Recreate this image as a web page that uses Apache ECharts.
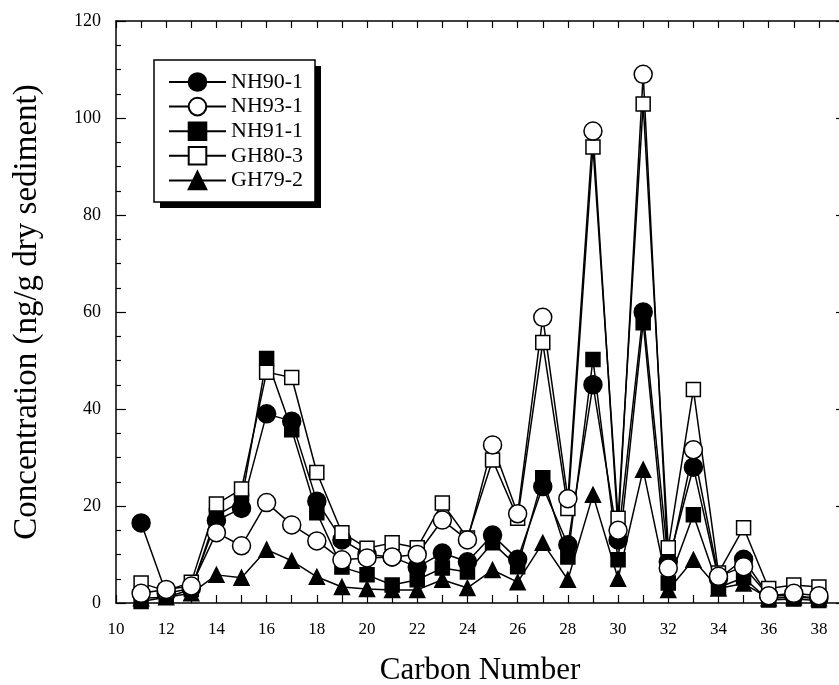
<!DOCTYPE html>
<html>
<head>
<meta charset="utf-8">
<script src="https://cdn.jsdelivr.net/npm/echarts@6/dist/echarts.min.js"></script>
<style>html,body{margin:0;padding:0;background:#fff;}#c{width:839px;height:685px;}</style>
</head>
<body>
<div id="c"></div>
<script>
const carbon = [11,12,13,14,15,16,17,18,19,20,21,22,23,24,25,26,27,28,29,30,31,32,33,34,35,36,37,38];
const nh90_1 = [16.5,2,3,17,19.5,39,37.5,21,13,10,9.5,7.4,10.3,8.5,14,9,24,12,45,13,60,8.5,28,5,9,1.5,1.5,1];
const nh93_1 = [2,2.8,3.5,14.5,11.8,20.7,16.1,12.8,8.9,9.3,9.5,10,17.1,13,32.6,18.4,58.9,21.5,97.3,15,109,7.2,31.6,5.5,7.5,1.5,2,1.5];
const nh91_1 = [0.3,1.2,2.8,18,21,50.4,35.7,18.6,7.4,5.8,3.7,4.8,7.2,6.4,12.4,7.5,25.8,9.5,50.2,8.9,57.8,4.1,18.2,3.2,5.2,0.6,0.8,0.5];
const gh80_3 = [4.1,2.5,4.3,20.4,23.5,47.6,46.5,26.9,14.5,11.3,12.4,11.4,20.6,13.4,29.5,17.5,53.7,19.5,94,17.5,102.9,11.4,44,6.2,15.5,3,3.7,3.3];
const gh79_2 = [1,1.2,2,5.8,5.2,11,8.7,5.4,3.3,2.9,2.7,2.7,4.8,3.1,6.8,4.3,12.4,4.8,22.3,5,27.5,2.7,8.9,3,4,1,1.2,1];
const xTicks = [10,12,14,16,18,20,22,24,26,28,30,32,34,36,38];
const yTicks = [0,20,40,60,80,100,120];
const legendNames = ['NH90-1','NH93-1','NH91-1','GH80-3','GH79-2'];

const FONT = 'Liberation Serif';
const pairs = arr => carbon.map((c,i)=>[c,arr[i]]);

function mk(name, data, symbol, size, filled){
  return {
    name, type:'line', data:pairs(data), symbol, symbolSize:size,
    lineStyle:{color:'#000', width:1.5},
    itemStyle:{color: filled ? '#000' : '#fff', borderColor:'#000', borderWidth:1.5},
    emphasis:{disabled:true}, animation:false
  };
}

const chart = echarts.init(document.getElementById('c'));
const axisCommon = {
  axisLine:{show:true, onZero:false, lineStyle:{color:'#000', width:1.5}},
  splitLine:{show:false}
};
chart.setOption({
  animation:false,
  grid:{left:116, right:-5, top:21, bottom:82, containLabel:false, outerBoundsMode:'none'},
  graphic:[
    {type:'rect', z:0, shape:{x:160, y:66, width:161, height:142}, style:{fill:'#000'}},
    {type:'rect', z:1, shape:{x:154, y:60, width:161, height:142}, style:{fill:'#fff', stroke:'#000', lineWidth:1.5}}
  ],
  legend:{
    orient:'vertical', left:154, top:60,
    padding:[11,12,11,14], itemGap:2.6, itemWidth:57, itemHeight:22,
    textStyle:{fontFamily:FONT, fontSize:22, color:'#000', lineHeight:22},
    data:legendNames
  },
  xAxis:[
    Object.assign({type:'value', min:10, max:39, interval:1, position:'bottom',
      name:'Carbon Number', nameLocation:'middle', nameGap:52,
      nameTextStyle:{fontFamily:FONT, fontSize:31, color:'#000'},
      axisTick:{show:true, inside:true, length:8, lineStyle:{color:'#000', width:1.2}},
      axisLabel:{fontFamily:FONT, fontSize:17, color:'#000', margin:18,
        formatter:v=> xTicks.indexOf(v)>=0 ? String(v) : ''}
    }, axisCommon),
    Object.assign({type:'value', min:10, max:39, interval:1, position:'top',
      axisTick:{show:true, inside:true, length:7, lineStyle:{color:'#000', width:1.2}},
      axisLabel:{show:false}
    }, axisCommon)
  ],
  yAxis:[
    Object.assign({type:'value', min:0, max:120, interval:20, position:'left',
      name:'Concentration (ng/g dry sediment)', nameLocation:'middle', nameGap:72, nameRotate:90,
      nameTextStyle:{fontFamily:FONT, fontSize:33, color:'#000'},
      axisTick:{show:true, inside:true, length:10, lineStyle:{color:'#000', width:1.2}},
      minorTick:{show:true, splitNumber:4, length:5, lineStyle:{color:'#000', width:1.2}},
      axisLabel:{fontFamily:FONT, fontSize:18, color:'#000', margin:15,
        formatter:v=> yTicks.indexOf(v)>=0 ? String(v) : ''}
    }, axisCommon),
    Object.assign({type:'value', min:0, max:120, interval:20, position:'right',
      axisTick:{show:true, inside:true, length:8, lineStyle:{color:'#000', width:1.2}},
      axisLabel:{show:false}
    }, axisCommon)
  ],
  series:[
    mk('GH79-2', gh79_2, 'triangle', 15, true),
    mk('NH91-1', nh91_1, 'rect', 14, true),
    mk('NH90-1', nh90_1, 'circle', 18, true),
    mk('GH80-3', gh80_3, 'rect', 14, false),
    mk('NH93-1', nh93_1, 'circle', 18, false)
  ]
});
</script>
</body>
</html>
